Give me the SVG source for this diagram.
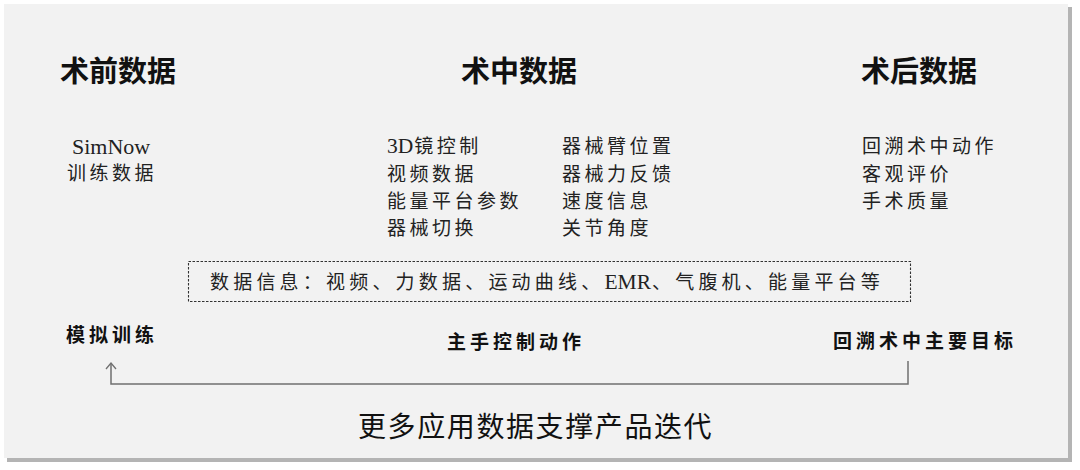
<svg xmlns="http://www.w3.org/2000/svg" width="1080" height="470" viewBox="0 0 1080 470">
  <defs>
    <style>
      .h { font-family: "Noto Sans CJK SC", "Liberation Sans", sans-serif; font-weight: 700; font-size: 29px; fill: #111; }
      .t { font-family: "Liberation Serif", "Noto Sans CJK SC", serif; font-size: 19px; fill: #222; letter-spacing: 3.5px; }
      .b { font-family: "Liberation Serif", "Noto Sans CJK SC", serif; font-size: 19px; font-weight: 700; fill: #111; letter-spacing: 4px; }
      .f { font-family: "Noto Sans CJK SC", "Liberation Sans", sans-serif; font-size: 28px; fill: #111; letter-spacing: 1.6px; }
      .c { fill: none; stroke: #707070; stroke-width: 1.5; }
    </style>
    <marker id="arr" viewBox="0 0 12 12" refX="11" refY="6" markerWidth="12" markerHeight="12" markerUnits="userSpaceOnUse" orient="auto">
      <path d="M5,1 L11,6 L5,11" fill="none" stroke="#707070" stroke-width="1.3"/>
    </marker>
  </defs>
  <rect width="1080" height="470" fill="#ffffff"/>
  <rect x="7" y="7" width="1065" height="455" fill="#b4b4b4"/>
  <rect x="4" y="4" width="1064" height="454" fill="#f2f2f2"/>

  <g id="pre">
    <text class="h" x="60" y="82">术前数据</text>
    <text class="t" x="72" y="154" style="font-size:22px;letter-spacing:0px">SimNow</text>
    <text class="t" x="67" y="180">训练数据</text>
    <text class="b" x="66" y="342">模拟训练</text>
  </g>

  <g id="intra">
    <text class="h" x="461" y="82">术中数据</text>
    <text class="t" x="387" y="153"><tspan style="font-size:21.5px;letter-spacing:0px">3D</tspan><tspan dx="1">镜控制</tspan></text>
    <text class="t" x="387" y="181">视频数据</text>
    <text class="t" x="387" y="208">能量平台参数</text>
    <text class="t" x="387" y="235">器械切换</text>
    <text class="t" x="562" y="153">器械臂位置</text>
    <text class="t" x="562" y="181">器械力反馈</text>
    <text class="t" x="562" y="208">速度信息</text>
    <text class="t" x="562" y="235">关节角度</text>
    <text class="b" x="447" y="349">主手控制动作</text>
  </g>

  <g id="post">
    <text class="h" x="861" y="82">术后数据</text>
    <text class="t" x="862" y="153">回溯术中动作</text>
    <text class="t" x="862" y="181">客观评价</text>
    <text class="t" x="862" y="208">手术质量</text>
    <text class="b" x="833" y="348">回溯术中主要目标</text>
  </g>

  <g id="info">
    <rect x="188.5" y="261.5" width="722" height="40" fill="none" stroke="#333" stroke-width="1.1" stroke-dasharray="2.5 1.5"/>
    <text class="t" x="210" y="289" style="letter-spacing:4.2px">数据信息：视频、力数据、运动曲线、<tspan style="font-size:21.5px;letter-spacing:0px">EMR</tspan><tspan dx="1">、气腹机、能量平台等</tspan></text>
  </g>

  <g id="connectors">
    <path class="c" d="M908,361 L908,384 L111,384 L111,363" marker-end="url(#arr)"/>
  </g>

  <g id="footer">
    <text class="f" x="358" y="437">更多应用数据支撑产品迭代</text>
  </g>
</svg>
